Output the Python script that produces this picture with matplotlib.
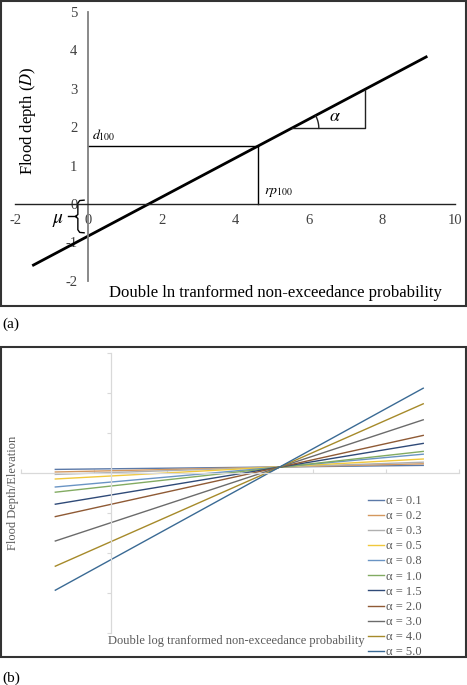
import numpy as np
import matplotlib
matplotlib.use('Agg')
import matplotlib.pyplot as plt
from matplotlib.patches import Rectangle

plt.rcParams['font.family'] = ['Liberation Serif', 'DejaVu Serif']
plt.rcParams['mathtext.fontset'] = 'stix'
plt.rcParams['axes.unicode_minus'] = False

# ---- panel (a) data
line_x = [-1.5, 9.2]
line_y = [-1.59, 3.83]
d100 = 1.5
rp100 = 4.62
mu = -0.83
tri_x = [5.54, 7.53]
tri_y = [1.97, 2.97]

# ---- panel (b) data
alphas = ['0.1', '0.2', '0.3', '0.5', '0.8', '1.0', '1.5', '2.0', '3.0', '4.0', '5.0']
x_ends = [0.47, 5.51]
y_left = [0.09, 0.025, -0.035, -0.15, -0.35, -0.48, -0.78, -1.09, -1.70, -2.33, -2.93]
y_right = [0.19, 0.23, 0.27, 0.35, 0.47, 0.54, 0.74, 0.94, 1.33, 1.73, 2.12]
colors = ['#5b79a8', '#d4985e', '#b0b0b0', '#f0c83c', '#6a94c4', '#82ab62',
          '#2f4a78', '#8f5a35', '#6b6b6b', '#a68a2a', '#3a6a94']

W, H = 467, 685
fig = plt.figure(figsize=(W / 100, H / 100), dpi=100)

def fx(px):
    return px / W

def fy(py):
    return (H - py) / H

# ================= (a)
ax = fig.add_axes([fx(15.1), fy(280.8), 440.4 / W, 268.8 / H])
ax.set_xlim(-2, 10)
ax.set_ylim(-2, 5)
for s in ['top', 'right']:
    ax.spines[s].set_visible(False)
ax.spines['left'].set_position(('data', 0))
ax.spines['bottom'].set_position(('data', 0))
ax.spines['left'].set_color('#808080')
ax.spines['left'].set_linewidth(1.3)
ax.spines['bottom'].set_color('#222222')
ax.spines['bottom'].set_linewidth(1.0)
ax.set_xticks(range(-2, 11, 2))
ax.set_yticks(range(-2, 6))
ax.tick_params(length=0, labelsize=10.5, labelcolor='#404040')
ax.tick_params(axis='y', pad=8)
ax.tick_params(axis='x', pad=7)
ax.patch.set_alpha(0)

ax.plot(line_x, line_y, color='black', lw=2)
ax.plot([0, rp100], [d100, d100], color='black', lw=1)
ax.plot([rp100, rp100], [0, d100], color='black', lw=1)
ax.plot([tri_x[0], tri_x[1], tri_x[1]], [tri_y[0], tri_y[0], tri_y[1]], color='#222222', lw=1)

# angle arc (circle in pixel space)
sx, sy = 36.7, 38.4
slope = (line_y[1] - line_y[0]) / (line_x[1] - line_x[0])
ang = np.arctan(slope * sy / sx)
t = np.linspace(0, ang, 20)
r = 27
ax.plot(tri_x[0] + r * np.cos(t) / sx, tri_y[0] + r * np.sin(t) / sy, color='#222222', lw=1)

ax.text(0.1, d100 + 0.08, '$d_{100}$', fontsize=10, ha='left', va='bottom')
ax.text(rp100 + 0.15, 0.12, '$rp_{100}$', fontsize=10, ha='left', va='bottom')
ax.text(6.72, 2.27, r'$\alpha$', fontsize=13, ha='center', va='center')
ax.text(-0.83, -0.42, r'$\mu$', fontsize=14, ha='center', va='center')

# brace marking mu (from 0 down to the intercept)
top, bot = 0.1, mu + 0.08
mid = (top + bot) / 2
ax.plot([-0.56, -0.33], [mid, mid], color='black', lw=1)
ax.plot([-0.12, -0.24, -0.29, -0.29, -0.36, -0.29, -0.29, -0.24, -0.12],
        [top, top - 0.01, top - 0.08, mid + 0.05, mid, mid - 0.05, bot + 0.08, bot + 0.01, bot],
        color='black', lw=1)

fig.text(fx(28), fy(121), 'Flood depth ($D$)', rotation=90, fontsize=12,
         ha='center', va='center')
fig.text(fx(275), fy(293), 'Double ln tranformed non-exceedance probability',
         fontsize=12, ha='center', va='center')

# ================= (b)
bx = fig.add_axes([fx(21), fy(633), 438 / W, 280 / H])
bx.set_xlim(0, 6)
bx.set_ylim(-4, 3)
for s in ['top', 'right']:
    bx.spines[s].set_visible(False)
bx.spines['left'].set_position(('data', 1.23))
bx.spines['bottom'].set_position(('data', 0))
for s in ['left', 'bottom']:
    bx.spines[s].set_color('#d9d9d9')
    bx.spines[s].set_linewidth(0.9)
bx.set_xticks(range(0, 7))
bx.set_yticks(range(-4, 4))
bx.tick_params(length=3, color='#d9d9d9', labelleft=False, labelbottom=False)
bx.tick_params(axis='x', direction='in')
bx.patch.set_alpha(0)

for a, yl, yr, c in zip(alphas, y_left, y_right, colors):
    bx.plot(x_ends, [yl, yr], color=c, lw=1, label='α = ' + a)

fig.legend(loc='upper left', bbox_to_anchor=(fx(368), fy(495)), frameon=False,
           fontsize=9, handlelength=1.25, handletextpad=0.15, labelspacing=0.25,
           borderpad=0, borderaxespad=0, labelcolor='#595959')

fig.text(fx(13), fy(493), 'Flood Depth/Elevation', rotation=90, fontsize=9,
         color='#595959', ha='center', va='center')
fig.text(fx(236), fy(641), 'Double log tranformed non-exceedance probability',
         fontsize=9, color='#595959', ha='center', va='center')

# frames and panel tags
fig.patches.append(Rectangle((fx(1), fy(306)), 465 / W, 305 / H, transform=fig.transFigure,
                             fill=False, ec='#333333', lw=1.5))
fig.patches.append(Rectangle((fx(1), fy(657)), 465 / W, 310 / H, transform=fig.transFigure,
                             fill=False, ec='#333333', lw=1.5))
fig.text(fx(2), fy(324), '(a)', fontsize=11, ha='left', va='center')
fig.text(fx(2), fy(678), '(b)', fontsize=11, ha='left', va='center')

fig.savefig('out.png', dpi=100)
